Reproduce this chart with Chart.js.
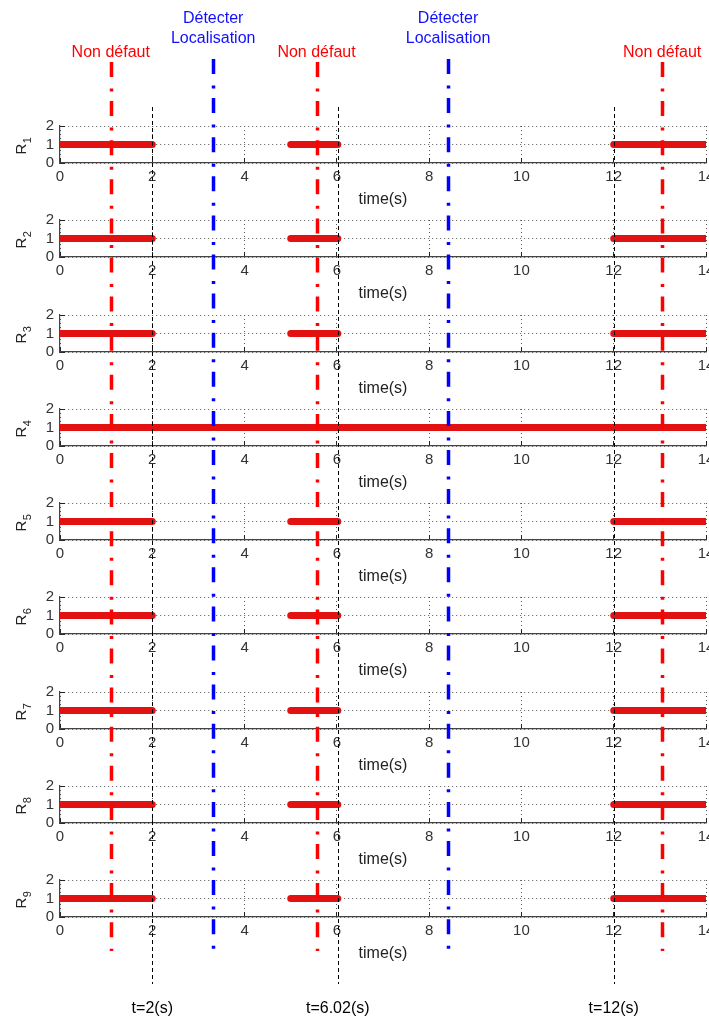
<!DOCTYPE html>
<html lang="fr">
<head>
<meta charset="utf-8">
<script src="https://cdn.jsdelivr.net/npm/chart.js@4.4.0/dist/chart.umd.min.js"></script>
<style>
  body { margin: 0; background: #fff; }
  #wrap { position: relative; width: 709px; height: 1018px; overflow: hidden; }
  #wrap canvas { position: absolute; left: 0; }
</style>
</head>
<body>
<div id="wrap"></div>
<script>
// relay states: intervals (s) where the relay output is 1
const relayNames = ["1", "2", "3", "4", "5", "6", "7", "8", "9"];
const normalOn = [[0, 2], [5, 6.02], [12, 14]];
const faultyOn = [[0, 14]];
const relayOn = [normalOn, normalOn, normalOn, faultyOn, normalOn, normalOn, normalOn, normalOn, normalOn];

const xTicks = [0, 2, 4, 6, 8, 10, 12, 14];
const yTicks = [0, 1, 2];

// event markers
const nonDefautTimes = [1.1, 5.56, 13.05];
const detectTimes = [3.32, 8.41];
const switchTimes = [2, 6.02, 12];
const switchLabels = ["t=2(s)", "t=6.02(s)", "t=12(s)"];

Chart.defaults.font.family = "'Liberation Sans', Arial, sans-serif";
Chart.defaults.color = '#222';

const wrap = document.getElementById('wrap');
const ROW_TOP = 126, ROW_STEP = 94.25, PAD_TOP = 16, CANVAS_H = 104;

function makeCanvas(top, h) {
  const c = document.createElement('canvas');
  c.width = 709; c.height = h;
  c.style.top = top + 'px';
  wrap.appendChild(c);
  return c;
}

function toPoints(intervals) {
  const pts = [];
  intervals.forEach(([a, b]) => {
    pts.push({x: a, y: 1}, {x: b, y: 1}, {x: b, y: null});
  });
  return pts;
}

const relayLabel = {
  id: 'relayLabel',
  afterDraw(chart, args, opts) {
    const {ctx, chartArea} = chart;
    const cy = (chartArea.top + chartArea.bottom) / 2;
    ctx.save();
    ctx.fillStyle = '#222';
    ctx.translate(25.5, cy + 10);
    ctx.rotate(-Math.PI / 2);
    ctx.textBaseline = 'alphabetic';
    ctx.textAlign = 'left';
    ctx.font = "15px 'Liberation Sans', Arial, sans-serif";
    ctx.fillText('R', 0, 0);
    const w = ctx.measureText('R').width;
    ctx.font = "11px 'Liberation Sans', Arial, sans-serif";
    ctx.fillText(opts.num, w + 0.5, 5);
    ctx.restore();
  }
};

relayNames.forEach((num, i) => {
  const top = Math.round(ROW_TOP + i * ROW_STEP) - PAD_TOP;
  const canvas = makeCanvas(top, CANVAS_H);
  new Chart(canvas, {
    type: 'line',
    data: {
      datasets: [{
        data: toPoints(relayOn[i]),
        borderColor: 'rgb(226,18,18)',
        borderWidth: 7,
        borderCapStyle: 'round',
        pointRadius: 0,
        spanGaps: false,
        tension: 0
      }]
    },
    options: {
      responsive: false,
      animation: false,
      devicePixelRatio: 1,
      events: [],
      layout: {padding: {top: PAD_TOP, left: 0, right: 3, bottom: 0}},
      plugins: {legend: {display: false}, tooltip: {enabled: false}, relayLabel: {num: num}},
      scales: {
        x: {
          type: 'linear', min: 0, max: 14,
          afterBuildTicks: s => { s.ticks = xTicks.map(v => ({value: v})); },
          afterFit: s => { s.height = CANVAS_H - PAD_TOP - 37; s.paddingLeft = 0; s.paddingRight = 0; },
          ticks: {font: {size: 15}, color: '#333', padding: 10, maxRotation: 0, autoSkip: false},
          grid: {color: '#555', lineWidth: 1, drawTicks: true, tickLength: -5, tickColor: '#222', tickBorderDash: []},
          border: {display: true, color: '#444', width: 1.2, dash: [1, 3]},
          title: {display: true, text: 'time(s)', font: {size: 16}, color: '#222', padding: {top: 0, bottom: 5}}
        },
        y: {
          type: 'linear', min: 0, max: 2,
          afterBuildTicks: s => { s.ticks = yTicks.map(v => ({value: v})); },
          afterFit: s => { s.width = 60; s.paddingTop = 0; s.paddingBottom = 0; },
          ticks: {font: {size: 15}, color: '#333', padding: 11, autoSkip: false},
          grid: {color: '#555', lineWidth: 1, drawTicks: true, tickLength: -5, tickColor: '#222', tickBorderDash: []},
          border: {display: true, color: '#444', width: 1.2, dash: [1, 3]}
        }
      }
    },
    plugins: [relayLabel]
  });
});

// overlay with the event markers across all rows
const markers = {
  id: 'markers',
  afterDraw(chart) {
    const {ctx} = chart;
    const xs = chart.scales.x;
    const vline = (t, y1, y2, color, width, dash) => {
      const px = Math.round(xs.getPixelForValue(t)) + 0.5;
      ctx.save();
      ctx.strokeStyle = color;
      ctx.lineWidth = width;
      ctx.setLineDash(dash);
      ctx.beginPath();
      ctx.moveTo(px, y1);
      ctx.lineTo(px, y2);
      ctx.stroke();
      ctx.restore();
    };
    switchTimes.forEach(t => vline(t, 107, 984, '#000', 1, [4, 3]));
    nonDefautTimes.forEach(t => vline(t, 62, 951, '#ff0000', 3.5, [15, 11.5, 3, 9.6]));
    detectTimes.forEach(t => vline(t, 59, 949, '#0000ff', 3.5, [15, 11.5, 3, 9.6]));

    ctx.save();
    ctx.font = "16px 'Liberation Sans', Arial, sans-serif";
    ctx.textAlign = 'center';
    ctx.textBaseline = 'alphabetic';
    ctx.fillStyle = '#ff0000';
    nonDefautTimes.forEach(t => ctx.fillText('Non défaut', xs.getPixelForValue(t), 57));
    ctx.fillStyle = '#1010ff';
    detectTimes.forEach(t => {
      const px = xs.getPixelForValue(t);
      ctx.fillText('Détecter', px, 23);
      ctx.fillText('Localisation', px, 43);
    });
    ctx.fillStyle = '#000';
    switchTimes.forEach((t, k) => ctx.fillText(switchLabels[k], xs.getPixelForValue(t), 1013));
    ctx.restore();
  }
};

new Chart(makeCanvas(0, 1018), {
  type: 'scatter',
  data: {datasets: []},
  options: {
    responsive: false,
    animation: false,
    devicePixelRatio: 1,
    events: [],
    layout: {padding: {top: 0, left: 60, right: 3, bottom: 0}},
    plugins: {legend: {display: false}, tooltip: {enabled: false}},
    scales: {
      x: {type: 'linear', min: 0, max: 14, display: false},
      y: {type: 'linear', min: 0, max: 1, display: false}
    }
  },
  plugins: [markers]
});
</script>
</body>
</html>
